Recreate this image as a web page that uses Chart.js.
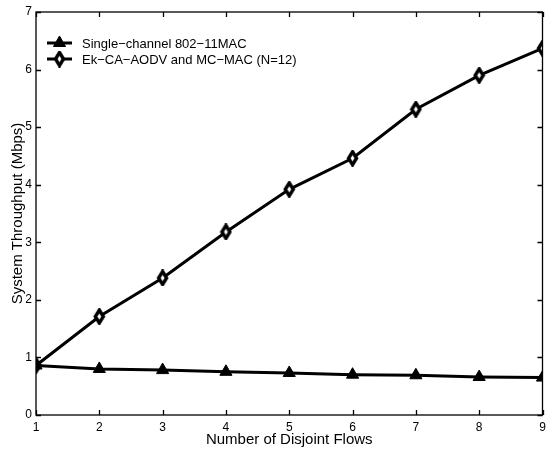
<!DOCTYPE html>
<html>
<head>
<meta charset="utf-8">
<script src="https://cdn.jsdelivr.net/npm/chart.js@4/dist/chart.umd.min.js"></script>
<style>
  html, body { margin: 0; padding: 0; background: #fff; }
  #wrap { width: 552px; height: 452px; position: relative; }
</style>
</head>
<body>
<div id="wrap"><canvas id="chart"></canvas></div>
<script>
// flows on the x axis, throughput in Mbps
const flows = [1, 2, 3, 4, 5, 6, 7, 8, 9];
const singleChannel = [0.86, 0.80, 0.78, 0.75, 0.73, 0.70, 0.69, 0.66, 0.65];
const ekCaAodv = [0.86, 1.71, 2.38, 3.18, 3.92, 4.46, 5.31, 5.90, 6.37];
const seriesNames = ['Single\u2212channel 802\u221211MAC', 'Ek\u2212CA\u2212AODV and MC\u2212MAC (N=12)'];
const yTicks = [0, 1, 2, 3, 4, 5, 6, 7];

const FONT = 'Liberation Sans, Arial, Helvetica, sans-serif';

function toPoints(vals) {
  return flows.map((f, i) => ({ x: f, y: vals[i] }));
}

// tall diamond marker, thick black outline with a small white centre
function makeDiamond() {
  const c = document.createElement('canvas');
  c.width = 13; c.height = 17;
  const g = c.getContext('2d');
  g.beginPath();
  g.moveTo(6.5, 2);
  g.lineTo(10.5, 8.5);
  g.lineTo(6.5, 15);
  g.lineTo(2.5, 8.5);
  g.closePath();
  g.fillStyle = '#fff';
  g.fill();
  g.lineWidth = 3.4;
  g.lineJoin = 'miter';
  g.strokeStyle = '#000';
  g.stroke();
  return c;
}
const diamond = makeDiamond();

// box around the plot with inward tick marks on all four sides
const boxTicks = {
  id: 'boxTicks',
  afterDatasetsDraw(chart) {
    const { ctx, chartArea: a, scales } = chart;
    const len = 5;
    ctx.save();
    ctx.strokeStyle = '#000';
    ctx.lineWidth = 1.3;
    ctx.strokeRect(a.left, a.top, a.right - a.left, a.bottom - a.top);
    ctx.beginPath();
    scales.x.ticks.forEach(t => {
      const px = Math.round(scales.x.getPixelForValue(t.value)) + 0.5;
      ctx.moveTo(px, a.bottom); ctx.lineTo(px, a.bottom - len);
      ctx.moveTo(px, a.top); ctx.lineTo(px, a.top + len);
    });
    scales.y.ticks.forEach(t => {
      const py = Math.round(scales.y.getPixelForValue(t.value)) + 0.5;
      ctx.moveTo(a.left, py); ctx.lineTo(a.left + len, py);
      ctx.moveTo(a.right, py); ctx.lineTo(a.right - len, py);
    });
    ctx.stroke();
    ctx.restore();
  }
};

// legend inside the top-left corner: line sample with marker, then label
const innerLegend = {
  id: 'innerLegend',
  afterDraw(chart) {
    const { ctx, chartArea: a } = chart;
    ctx.save();
    ctx.font = '13px ' + FONT;
    ctx.textBaseline = 'middle';
    chart.data.datasets.forEach((ds, i) => {
      const y = a.top + 31 + i * 16;
      const x0 = a.left + 11, x1 = a.left + 36;
      ctx.strokeStyle = ds.borderColor;
      ctx.lineWidth = ds.borderWidth;
      ctx.beginPath();
      ctx.moveTo(x0, y); ctx.lineTo(x1, y);
      ctx.stroke();
      ctx.fillStyle = ds.pointBackgroundColor;
      ctx.strokeStyle = ds.pointBorderColor;
      ctx.lineWidth = ds.pointBorderWidth;
      Chart.helpers.drawPoint(ctx, {
        pointStyle: ds.pointStyle,
        radius: ds.pointRadius,
        borderWidth: ds.pointBorderWidth
      }, (x0 + x1) / 2, y);
      ctx.fillStyle = '#000';
      ctx.fillText(ds.label, x1 + 10, y + 1);
    });
    ctx.restore();
  }
};

new Chart(document.getElementById('chart'), {
  type: 'line',
  data: {
    datasets: [
      {
        label: seriesNames[0],
        data: toPoints(singleChannel),
        borderColor: '#000',
        borderWidth: 3,
        pointStyle: 'triangle',
        pointRadius: 7,
        pointBackgroundColor: '#000',
        pointBorderColor: '#000',
        pointBorderWidth: 1,
        tension: 0
      },
      {
        label: seriesNames[1],
        data: toPoints(ekCaAodv),
        borderColor: '#000',
        borderWidth: 3,
        pointStyle: diamond,
        pointRadius: 7,
        pointBackgroundColor: '#fff',
        pointBorderColor: '#000',
        pointBorderWidth: 2.5,
        tension: 0
      }
    ]
  },
  options: {
    responsive: true,
    maintainAspectRatio: false,
    animation: false,
    layout: { padding: { top: 12, right: 4, left: 0, bottom: 0 } },
    plugins: {
      legend: { display: false },
      tooltip: { enabled: false }
    },
    scales: {
      x: {
        type: 'linear',
        min: 1,
        max: 9,
        grid: { display: false, drawTicks: false },
        border: { display: false },
        ticks: {
          stepSize: 1,
          padding: 5,
          color: '#000',
          font: { family: FONT, size: 12 }
        },
        title: {
          display: true,
          text: 'Number of Disjoint Flows',
          color: '#000',
          font: { family: FONT, size: 15 },
          padding: { top: 0, bottom: 3 }
        },
        afterFit(scale) {
          scale.height = 37;
          scale.paddingLeft = 0;
          scale.paddingRight = 0;
        }
      },
      y: {
        min: 0,
        max: 7,
        grid: { display: false, drawTicks: false },
        border: { display: false },
        afterBuildTicks(scale) { scale.ticks = yTicks.map(v => ({ value: v })); },
        ticks: {
          padding: 4,
          color: '#000',
          font: { family: FONT, size: 12 }
        },
        title: {
          display: true,
          text: 'System Throughput (Mbps)',
          color: '#000',
          font: { family: FONT, size: 15 },
          padding: { top: 9, bottom: 0 }
        },
        afterFit(scale) {
          scale.width = 36;
          scale.paddingTop = 0;
          scale.paddingBottom = 0;
        }
      }
    }
  },
  plugins: [boxTicks, innerLegend]
});
</script>
</body>
</html>
